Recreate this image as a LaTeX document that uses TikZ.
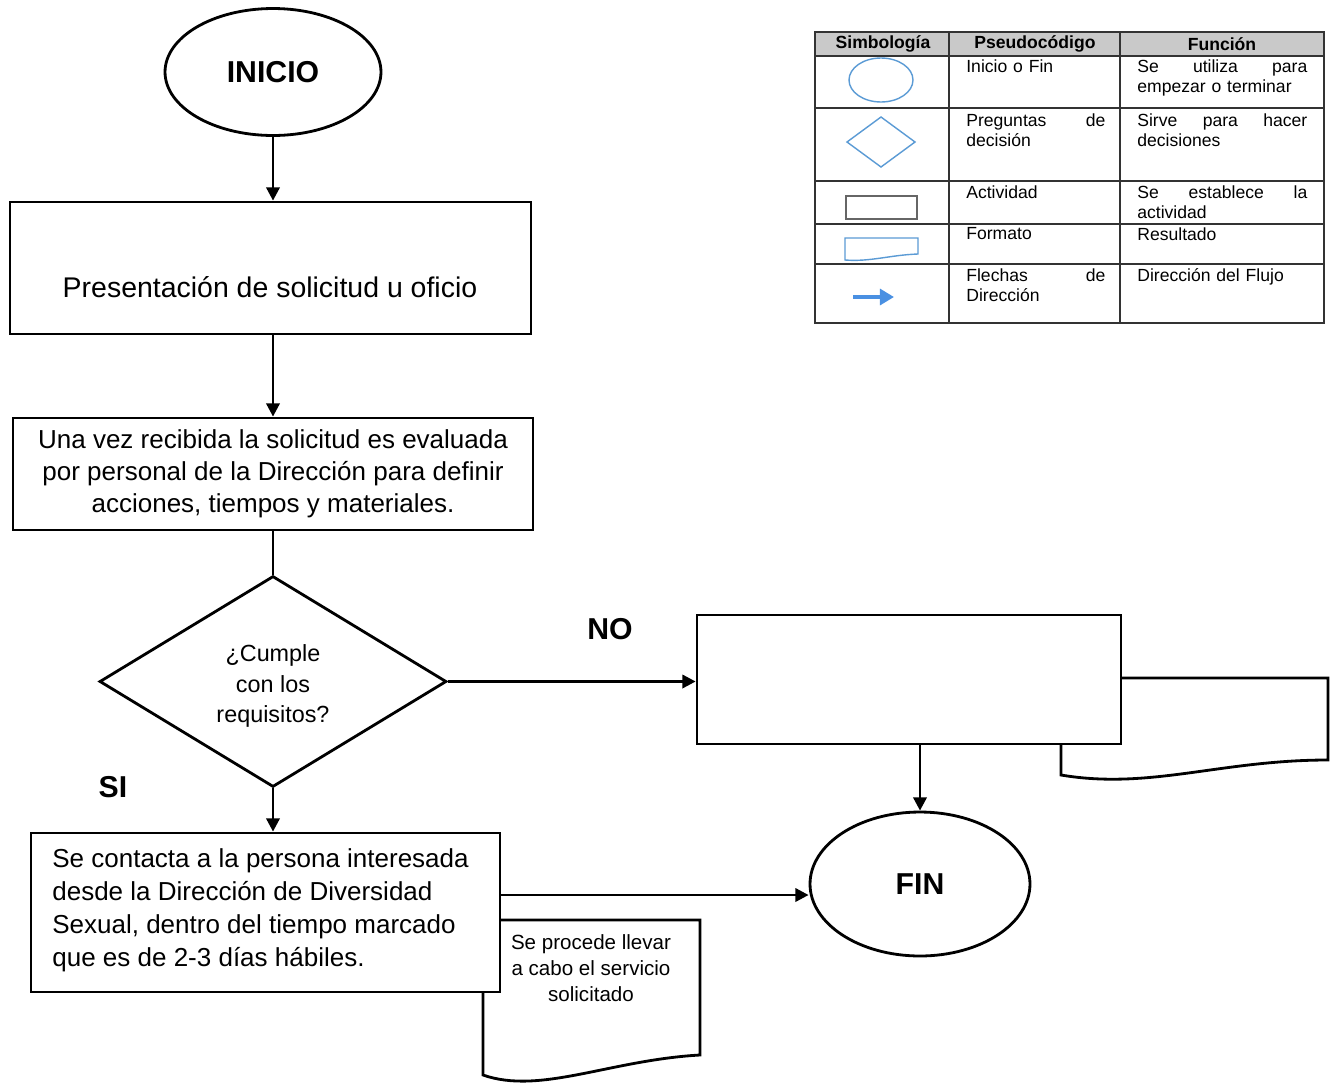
\documentclass[tikz,border=0pt]{standalone}
\usepackage{fontspec}
\setmainfont{Liberation Sans}
\usetikzlibrary{shapes.geometric,arrows.meta}
\definecolor{lgblue}{HTML}{5B9BD5}
\definecolor{arrblue}{HTML}{4A90E2}
\definecolor{hdrgray}{HTML}{C9C9C9}
\begin{document}
\begin{tikzpicture}[x=0.02cm,y=-0.02cm,
  shp/.style={draw=black,line width=1.6pt,fill=white,inner sep=0pt},
  arr/.style={line width=1.6pt,-{Triangle[length=7.5pt,width=7.5pt]}},
  ln/.style={line width=1.6pt},
  big/.style={font=\fontsize{16.2}{18.6}\selectfont},
  mid/.style={font=\fontsize{14.8}{18.2}\selectfont},
  ttl/.style={font=\fontsize{17.2}{20}\selectfont\bfseries},
  tline/.style={draw=black!80,line width=1pt},
  lt/.style={anchor=north west,inner sep=0pt,font=\fontsize{10}{11.4}\selectfont,align=left},
  hd/.style={inner sep=0pt,font=\fontsize{10}{12}\selectfont\bfseries},
  lsym/.style={draw=lgblue,line width=0.8pt}
]
\useasboundingbox[fill=white] (0,0) rectangle (1333,1086);

% ---- flow ----
\node[shp,ellipse,minimum width=4.32cm,minimum height=2.54cm,ttl] (ini) at (273,72) {INICIO};

\node[shp,minimum width=10.42cm,minimum height=2.64cm] (b1) at (270.5,268) {};
\node[big] (b1t) at (270,287) {Presentación de solicitud u oficio};

\node[shp,minimum width=10.4cm,minimum height=2.24cm,mid,align=center] (b2) at (273,474)
  {Una vez recibida la solicitud es evaluada\\por personal de la Dirección para definir\\acciones, tiempos y materiales.};

\node[shp,diamond,aspect=1.64,minimum width=6.94cm,minimum height=4.22cm] (dia) at (273,681.5) {};
\node[font=\fontsize{13.3}{17.6}\selectfont,align=center] (diat) at (273,686)
  {¿Cumple\\con los\\requisitos?};

\node[ttl] (no) at (610,629) {NO};
\node[ttl] (si) at (113,787) {SI};

% document shape behind box 3
\draw[shp] (1061,678) -- (1328,678) -- (1328,760)
  .. controls (1220,760) and (1150,790) .. (1061,775) -- cycle;
\node[shp,minimum width=8.48cm,minimum height=2.58cm] (b3) at (909,679.5) {};

\node[shp,ellipse,minimum width=4.4cm,minimum height=2.88cm,ttl] (fin) at (920,884) {FIN};

% document shape behind box 4
\draw[shp] (483,920) -- (700,920) -- (700,1055)
  .. controls (610,1060) and (540,1095) .. (483,1075) -- cycle;
\node[font=\fontsize{11.7}{14.7}\selectfont,align=center] (d2t) at (591,968)
  {Se procede llevar\\a cabo el servicio\\solicitado};

\node[shp,minimum width=9.38cm,minimum height=3.18cm] (b4) at (265.5,912.5) {};
\node[align=left,anchor=west,inner sep=0pt,font=\fontsize{14.8}{18.7}\selectfont] (b4t) at (52,910)
  {Se contacta a la persona interesada\\desde la Dirección de Diversidad\\Sexual, dentro del tiempo marcado\\que es de 2-3 días hábiles.};

% connectors
\draw[arr] (ini.south) -- (b1.north -| ini.south);
\draw[arr] (b1.south -| b2.north) -- (b2.north);
\draw[ln] (b2.south) -- (dia.north);
\draw[arr] (dia.south) -- (dia.south |- b4.north);
\draw[arr] (dia.east) -- (dia.east -| b3.west);
\draw[arr] (fin.north |- b3.south) -- (fin.north);
\draw[arr] ([yshift=0.35cm]b4.east) -- ([yshift=0.35cm]b4.east -| fin.west);

% ---- legend table ----
\fill[hdrgray] (815,32) rectangle (1324,56);
\draw[tline] (815,32) rectangle (1324,323);
\foreach \yy in {56,108,181,224,264} \draw[tline] (815,\yy) -- (1324,\yy);
\draw[tline] (949,32) -- (949,323);
\draw[tline] (1120,32) -- (1120,323);

\node[hd] (h1) at (883,44) {Simbología};
\node[hd] (h2) at (1035,44) {Pseudocódigo};
\node[hd] (h3) at (1222,44) {Función};

\node[lt,text width=2.78cm] (p1) at (966,59) {Inicio o Fin};
\node[lt,text width=3.4cm] (f1) at (1137,59) {Se\hfill utiliza\hfill para\\empezar o terminar};
\node[lt,text width=2.78cm] (p2) at (966,113) {Preguntas\hfill de\\decisión};
\node[lt,text width=3.4cm] (f2) at (1137,113) {Sirve\hfill para\hfill hacer\\decisiones};
\node[lt,text width=2.78cm] (p3) at (966,185) {Actividad};
\node[lt,text width=3.4cm] (f3) at (1137,185) {Se\hfill establece\hfill la\\actividad};
\node[lt,text width=2.78cm] (p4) at (966,227) {Formato};
\node[lt,text width=3.4cm] (f4) at (1137,227) {Resultado};
\node[lt,text width=2.78cm] (p5) at (966,268) {Flechas\hfill de\\Dirección};
\node[lt,text width=3.4cm] (f5) at (1137,268) {Dirección del Flujo};

% legend symbols
\draw[lsym] (881,80) ellipse [x radius=0.64cm, y radius=0.44cm];
\draw[lsym] (847,142) -- (881,117) -- (915,142) -- (881,167) -- cycle;
\draw[draw=black!60,line width=0.8pt] (846,196) rectangle (917,219);
\draw[lsym] (845,238) -- (918,238) -- (918,254) .. controls (890,255) and (870,262) .. (845,260) -- cycle;
\draw[draw=arrblue,line width=2pt,-{Triangle[length=8pt,width=9pt]}] (853,297) -- (894,297);
\end{tikzpicture}
\end{document}
